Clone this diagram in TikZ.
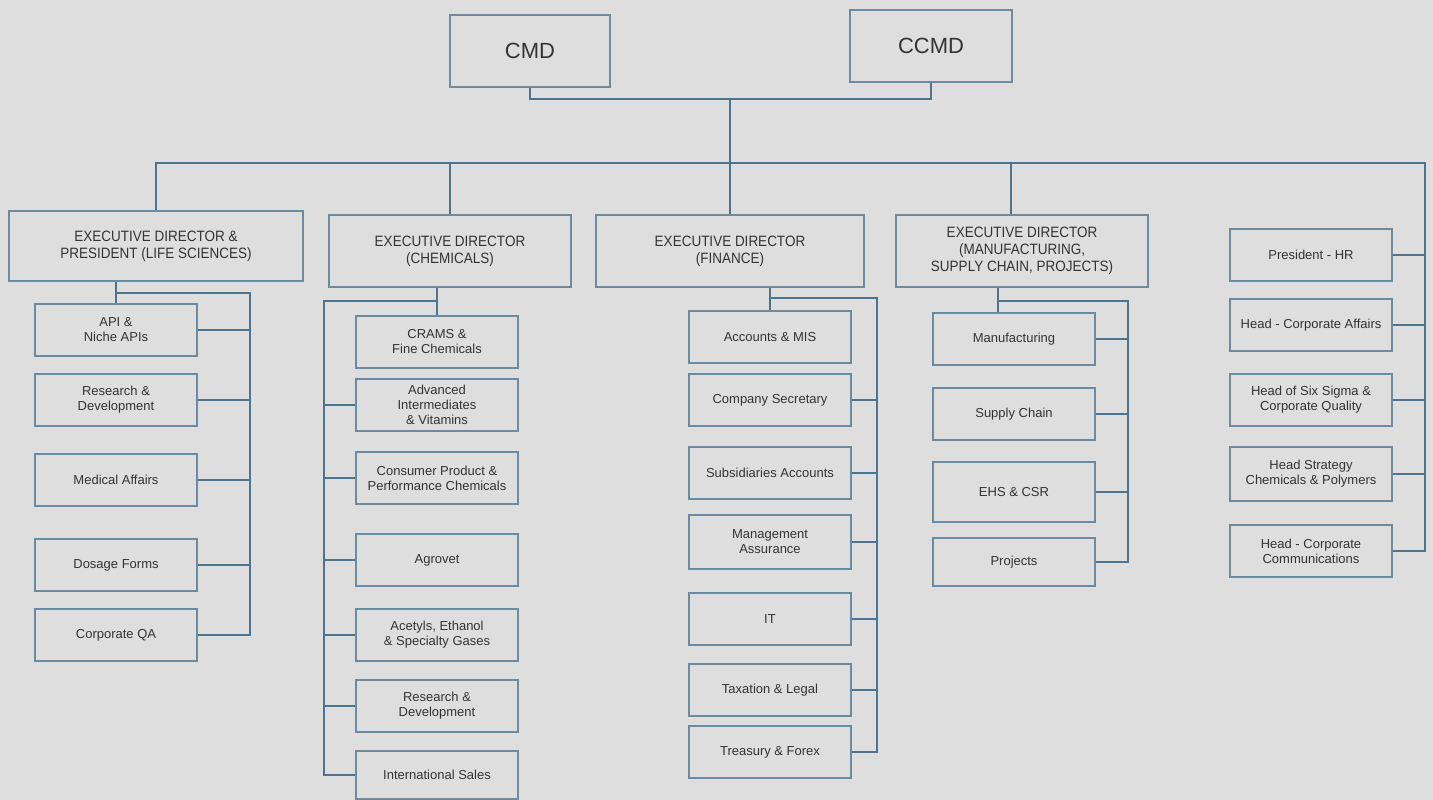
\documentclass[tikz,border=0pt]{standalone}
\usepackage{fontspec}
\setmainfont{Liberation Sans}
\newfontfamily\edfont[FakeStretch=0.9]{Liberation Sans}
\definecolor{bg}{HTML}{DEDEDE}
\definecolor{linec}{HTML}{4B7491}
\definecolor{boxc}{HTML}{6A8CA3}
\definecolor{txt}{HTML}{333333}
\begin{document}
\begin{tikzpicture}[x=1pt,y=-1pt,
  box/.style={draw=boxc,line width=1.4pt,align=center,text=txt,inner sep=0pt,
    font=\fontsize{13}{15}\selectfont},
  subbox/.style={box,minimum width=162pt,minimum height=52pt},
  edbox/.style={box,font=\edfont\fontsize{15}{17}\selectfont},
  topbox/.style={box,font=\fontsize{22}{24}\selectfont},
  conn/.style={draw=linec,line width=2pt}]
\fill[bg] (0,0) rectangle (1433,800);
\useasboundingbox (0,0) rectangle (1433,800);
% top
\node[topbox,minimum width=160pt,minimum height=72pt] (CMD) at (530,51) {CMD};
\node[topbox,minimum width=162pt,minimum height=72pt] (CCMD) at (931,46) {CCMD};
% executive directors
\node[edbox,minimum width=294pt,minimum height=70pt] (ED1) at (156,246) {EXECUTIVE DIRECTOR \&\\PRESIDENT (LIFE SCIENCES)};
\node[edbox,minimum width=242pt,minimum height=72pt] (ED2) at (450,251) {EXECUTIVE DIRECTOR\\(CHEMICALS)};
\node[edbox,minimum width=268pt,minimum height=72pt] (ED3) at (730,251) {EXECUTIVE DIRECTOR\\(FINANCE)};
\node[edbox,minimum width=252pt,minimum height=72pt] (ED4) at (1022,251) {EXECUTIVE DIRECTOR\\(MANUFACTURING,\\SUPPLY CHAIN, PROJECTS)};
% life sciences
\node[subbox] (API) at (116,330) {API \&\\Niche APIs};
\node[subbox] (RD1) at (116,400) {Research \&\\Development};
\node[subbox] (MA) at (116,480) {Medical Affairs};
\node[subbox] (DF) at (116,565) {Dosage Forms};
\node[subbox] (CQA) at (116,635) {Corporate QA};
% chemicals
\node[subbox] (CRAMS) at (437,342) {CRAMS \&\\Fine Chemicals};
\node[subbox] (ADV) at (437,405) {Advanced\\Intermediates\\\& Vitamins};
\node[subbox] (CONS) at (437,478) {Consumer Product \&\\Performance Chemicals};
\node[subbox] (AGRO) at (437,560) {Agrovet};
\node[subbox] (ACE) at (437,635) {Acetyls, Ethanol\\\& Specialty Gases};
\node[subbox] (RD2) at (437,706) {Research \&\\Development};
\node[subbox,minimum height=48pt] (INTL) at (437,775) {International Sales};
% finance
\node[subbox] (ACC) at (770,337) {Accounts \& MIS};
\node[subbox] (CS) at (770,400) {Company Secretary};
\node[subbox] (SUB) at (770,473) {Subsidiaries Accounts};
\node[subbox,minimum height=54pt] (MGMT) at (770,542) {Management\\Assurance};
\node[subbox] (IT) at (770,619) {IT};
\node[subbox] (TAX) at (770,690) {Taxation \& Legal};
\node[subbox] (TRE) at (770,752) {Treasury \& Forex};
% manufacturing
\node[subbox] (MFG) at (1014,339) {Manufacturing};
\node[subbox] (SC) at (1014,414) {Supply Chain};
\node[subbox,minimum height=60pt] (EHS) at (1014,492) {EHS \& CSR};
\node[subbox,minimum height=48pt] (PRJ) at (1014,562) {Projects};
% right column
\node[subbox] (HR) at (1311,255) {President - HR};
\node[subbox] (HCA) at (1311,325) {Head - Corporate Affairs};
\node[subbox] (SIX) at (1311,400) {Head of Six Sigma \&\\Corporate Quality};
\node[subbox,minimum height=54pt] (STR) at (1311,474) {Head Strategy\\Chemicals \& Polymers};
\node[subbox] (COMM) at (1311,551) {Head - Corporate\\Communications};
% coordinates
\coordinate (top) at (730,99);
\coordinate (bar) at (730,163);
\coordinate (barR) at (1425,163);
\coordinate (ed4drop) at (1011,163);
\coordinate (lsbus) at (250,293);
\coordinate (chbus) at (324,301);
\coordinate (fbus) at (877,298);
\coordinate (mtop) at (998,301);
\coordinate (mbus) at (1128,301);
% top connectors
\draw[conn] (CMD.south) |- (top) -| (CCMD.south);
\draw[conn] (top) -- (bar);
\draw[conn] (ED1.north) |- (barR) |- (COMM.east);
\draw[conn] (ED2.north) -- (ED2.north |- bar);
\draw[conn] (ED3.north) -- (ED3.north |- bar);
\draw[conn] (ed4drop) -- (ed4drop |- ED4.north);
\foreach \n in {HR,HCA,SIX,STR} \draw[conn] (\n.east) -- (\n.east -| barR);
% life sciences
\draw[conn] (API.north) -- (API.north |- ED1.south);
\draw[conn] (API.north |- lsbus) -- (lsbus) |- (CQA.east);
\foreach \n in {API,RD1,MA,DF} \draw[conn] (\n.east) -- (\n.east -| lsbus);
% chemicals
\draw[conn] (CRAMS.north) -- (CRAMS.north |- ED2.south);
\draw[conn] (CRAMS.north |- chbus) -- (chbus) |- (INTL.west);
\foreach \n in {ADV,CONS,AGRO,ACE,RD2} \draw[conn] (\n.west) -- (\n.west -| chbus);
% finance
\draw[conn] (ACC.north) -- (ACC.north |- ED3.south);
\draw[conn] (ACC.north |- fbus) -- (fbus) |- (TRE.east);
\foreach \n in {CS,SUB,MGMT,IT,TAX} \draw[conn] (\n.east) -- (\n.east -| fbus);
% manufacturing
\draw[conn] (mtop |- ED4.south) -- (mtop |- MFG.north);
\draw[conn] (mtop) -- (mbus) |- (PRJ.east);
\foreach \n in {MFG,SC,EHS} \draw[conn] (\n.east) -- (\n.east -| mbus);
\end{tikzpicture}
\end{document}
